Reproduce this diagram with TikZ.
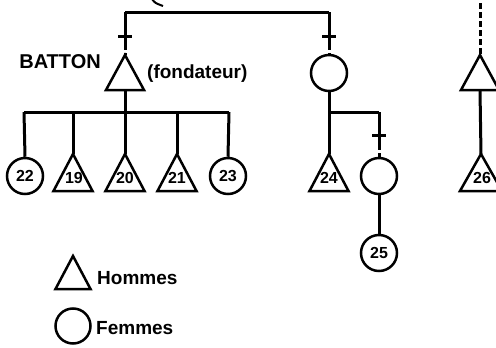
\documentclass[tikz,border=0pt]{standalone}
\usepackage{fontspec}
\setmainfont{Liberation Sans}
% triangle (man): #1 name, #2 x, #3 apex y, #4 half base, #5 height
\newcommand\mantri[5]{%
  \coordinate (#1) at (#2,#3);
  \coordinate (#1-b) at (#2,#3+#5);
  \draw[tri] (#1) -- ++(-#4,#5) -- ++(2*#4,0) -- cycle;}
% death cross on a vertical line at (x,y)
\newcommand\deathcross[2]{%
  \draw[link] (#1-7,#2) -- (#1+7,#2);
  \draw[link] (#1,#2-8) -- (#1,#2+9);}
\begin{document}
\begin{tikzpicture}[x=1pt,y=-1pt,
  link/.style={line width=3pt},
  kin/.style={line width=3pt, dash pattern=on 5pt off 3pt},
  tri/.style={line width=2.5pt, line join=miter},
  fem/.style={circle, draw, line width=2.5pt, minimum size=36pt, inner sep=0pt,
    font=\fontsize{16}{16}\selectfont\bfseries},
  lab/.style={font=\fontsize{16}{16}\selectfont\bfseries, inner sep=0pt},
  title/.style={font=\fontsize{20}{20}\selectfont\bfseries, inner sep=0pt},
  note/.style={font=\fontsize{19}{19}\selectfont\bfseries, inner sep=0pt}
]
\useasboundingbox (0,0) rectangle (496,348);
\clip (0,0) rectangle (496,348);

% fragment of a stroke at the top edge
\draw[line width=2pt] (152,-1) .. controls (155,3) .. (163,6);

% ---- founder line ----
\coordinate (topL) at (125,12);
\coordinate (topR) at (329,12);
\draw[link] (topL) -- (topR);

\mantri{F}{125}{55}{19}{35}
\node[title, anchor=east] (batton) at (101,62) {BATTON};
\node[note, anchor=west] (fond) at (147,74) {(fondateur)};
\coordinate (fX) at (125,45);
\draw[link] (topL) -- (fX);
\deathcross{125}{36}
\draw[kin] (fX) -- (F);

% children of the founder
\coordinate (barL) at (24,112);
\coordinate (barR) at (229,112);
\coordinate (barM) at (125,112);
\draw[link] (F-b) -- (barM);
\draw[link] (barL) -- (barR);

\node[fem] (c22) at (25,176) {22};
\mantri{t19}{73}{154}{19.5}{37}
\mantri{t20}{125}{154}{19.5}{37}
\mantri{t21}{177}{154}{19.5}{37}
\node[fem] (c23) at (228,176) {23};
\node[lab] (n19) at (74,178) {19};
\node[lab] (n20) at (125,178) {20};
\node[lab] (n21) at (177,178) {21};

\coordinate (b22) at (24,112);
\coordinate (b19) at (73,112);
\coordinate (b21) at (177,112);
\coordinate (b23) at (229,112);
\draw[link] (b22) -- (c22.north);
\draw[link] (b19) -- (t19);
\draw[link] (barM) -- (t20);
\draw[link] (b21) -- (t21);
\draw[link] (b23) -- (c23.north);

% ---- second line ----
\node[fem] (m) at (329,73) {};
\coordinate (mX) at (329,45);
\draw[link] (topR) -- (mX);
\deathcross{329}{36}
\draw[kin] (mX) -- (m.north);

\coordinate (mJ) at (329,112);
\coordinate (sJ) at (379,112);
\mantri{t24}{329}{154}{19.5}{37}
\node[lab] (n24) at (329,178) {24};
\draw[link] (m.south) -- (t24);
\draw[link] (mJ) -- (sJ);

\node[fem] (s) at (379,176) {};
\coordinate (sX) at (379,145);
\draw[link] (sJ) -- (sX);
\deathcross{379}{135}
\draw[kin] (sX) -- (s.north);

\node[fem] (c25) at (379,253) {25};
\draw[link] (s.south) -- (c25.north);

% ---- third line, at the right edge ----
\coordinate (rTop) at (480,3);
\mantri{R}{480}{55}{19}{35}
\draw[kin, dash pattern=on 6pt off 3pt] (rTop) -- (R);
\mantri{t26}{481}{154}{21}{37}
\node[lab] (n26) at (482,178) {26};
\draw[link] (R-b) -- (t26);

% ---- legend ----
\mantri{L}{73}{256}{17.5}{33}
\node[note, anchor=west] (hom) at (97,278) {Hommes};
\node[fem, minimum size=35pt] (lc) at (73,326) {};
\node[note, anchor=west] (fem) at (96,328) {Femmes};
\end{tikzpicture}
\end{document}
